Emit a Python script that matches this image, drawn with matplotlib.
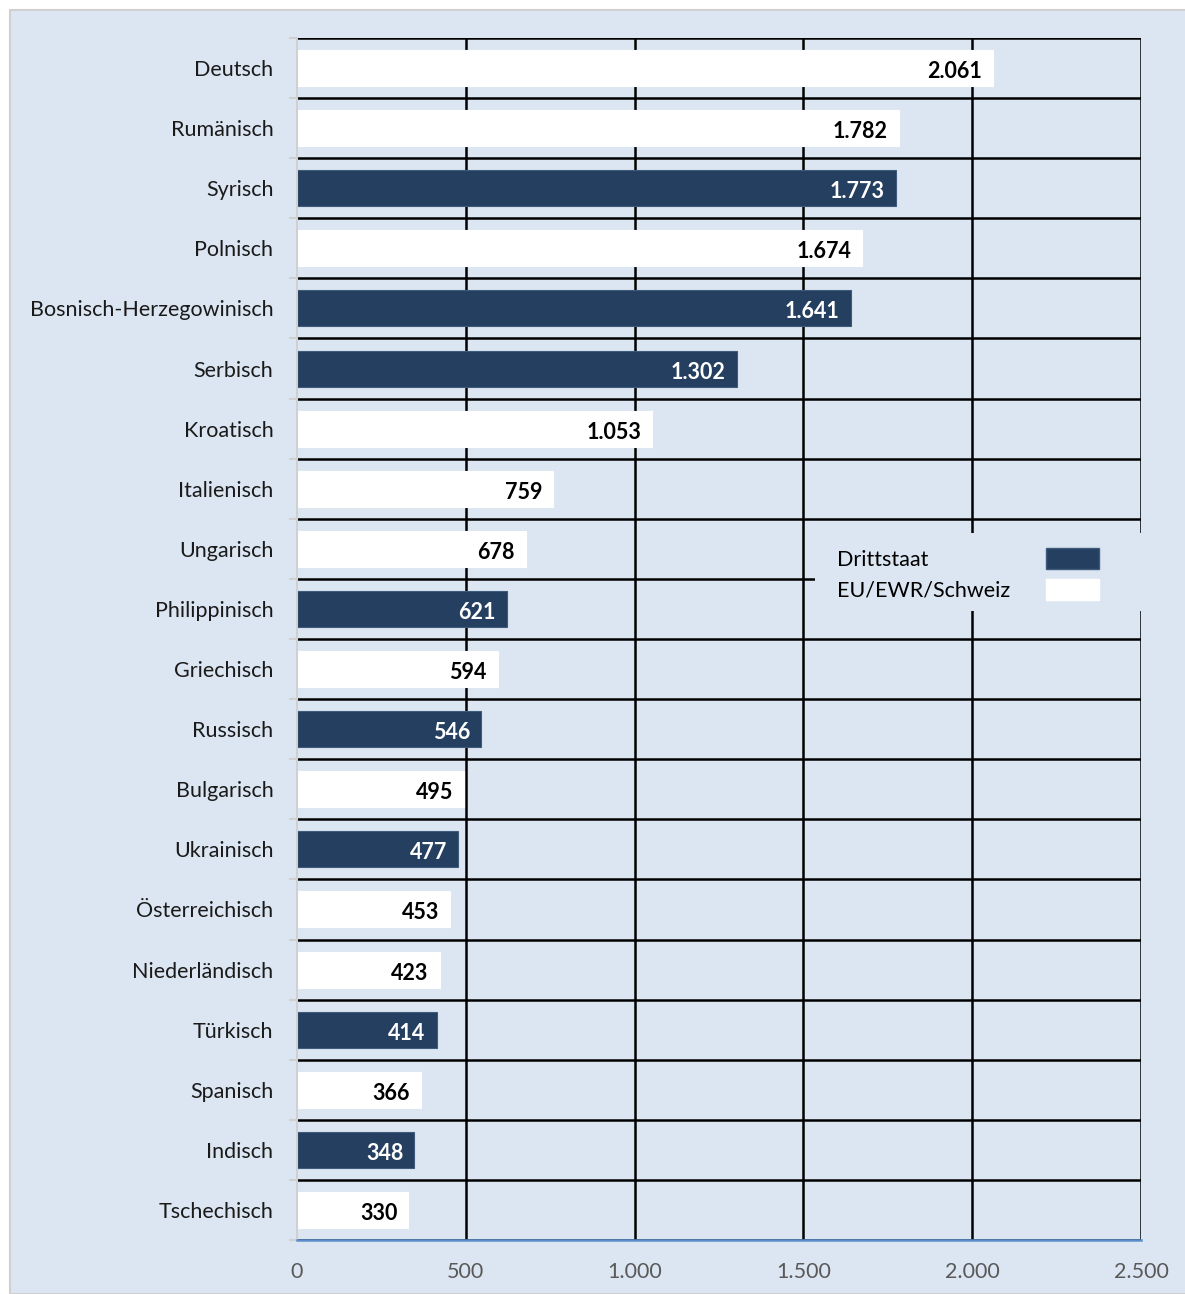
import matplotlib.pyplot as plt
from matplotlib.patches import Patch, Rectangle
import numpy as np

plt.rcParams['font.family'] = ['Lato', 'DejaVu Sans']

categories = ["Deutsch", "Rumänisch", "Syrisch", "Polnisch", "Bosnisch-Herzegowinisch",
              "Serbisch", "Kroatisch", "Italienisch", "Ungarisch", "Philippinisch",
              "Griechisch", "Russisch", "Bulgarisch", "Ukrainisch", "Österreichisch",
              "Niederländisch", "Türkisch", "Spanisch", "Indisch", "Tschechisch"]
values = [2061, 1782, 1773, 1674, 1641, 1302, 1053, 759, 678, 621,
          594, 546, 495, 477, 453, 423, 414, 366, 348, 330]
# True = Drittstaat, False = EU/EWR/Schweiz
third_country = [False, False, True, False, True, True, False, False, False, True,
                 False, True, False, True, False, False, True, False, True, False]
x_ticks = [0, 500, 1000, 1500, 2000, 2500]

DARK = "#243F60"
PANEL = "#DCE6F2"
FS = 15.5


def fmt(v):
    return f"{v:,}".replace(",", ".")


fig = plt.figure(figsize=(11.85, 12.94), dpi=100)
fig.patches.append(Rectangle((10 / 1185, 0), 1.0, 1 - 10 / 1294, transform=fig.transFigure,
                             facecolor=PANEL, edgecolor="#D0D0D0", linewidth=1.5, zorder=0))

ax = fig.add_axes([297 / 1185, 54 / 1294, 844 / 1185, 1202 / 1294])
ax.set_zorder(1)
ax.set_facecolor(PANEL)

n = len(categories)
y = np.arange(n)
colors = [DARK if t else "white" for t in third_country]
edges = ["#3E5A7C" if t else "white" for t in third_country]
ax.barh(y, values, height=0.6, color=colors, edgecolor=edges, linewidth=0.8, zorder=2)

for yi, v, t in zip(y, values, third_country):
    ax.annotate(fmt(v), (v, yi), xytext=(-8, -2.5), textcoords="offset points",
                ha="right", va="center", fontsize=FS, fontweight="bold",
                color="white" if t else "black", zorder=3)

ax.set_xlim(0, 2500)
ax.set_ylim(n - 0.5, -0.5)
ax.set_xticks(x_ticks)
ax.set_xticklabels([fmt(v) for v in x_ticks])
ax.set_yticks(y)
ax.set_yticklabels(categories)
ax.set_yticks(np.arange(-0.5, n, 1), minor=True)

ax.tick_params(axis="y", which="major", length=0, pad=17, labelsize=FS, labelcolor="#1a1a1a")
ax.tick_params(axis="y", which="minor", length=6, width=1.5, color="#D0D0D0")
ax.tick_params(axis="x", length=0, pad=16, labelsize=FS, labelcolor="#595959")

ax.grid(axis="y", which="minor", color="black", linewidth=1.8, zorder=0.5)
for xv in x_ticks[1:]:
    ax.axvline(xv, color="black", linewidth=1.8, zorder=0.5)

ax.spines["left"].set_color("#D0D0D0")
ax.spines["left"].set_linewidth(1.5)
ax.spines["bottom"].set_color("#5B8FCB")
ax.spines["bottom"].set_linewidth(1.8)
ax.spines["top"].set_visible(False)
ax.spines["right"].set_visible(False)

# legend area covers the grid
fig.patches.append(Rectangle((815 / 1185, 1 - 611 / 1294), 327 / 1185, 78 / 1294,
                             transform=fig.transFigure, facecolor=PANEL, edgecolor="none",
                             zorder=5))
handles = [Patch(facecolor=DARK, edgecolor="#3E5A7C", label="Drittstaat"),
           Patch(facecolor="white", edgecolor="white", label="EU/EWR/Schweiz")]
leg = fig.legend(handles=handles, loc="upper left", bbox_to_anchor=(826 / 1185, 1 - 537 / 1294),
                 frameon=False, markerfirst=False, fontsize=FS, handlelength=2.47,
                 handleheight=1.12, handletextpad=2.0, labelspacing=0.44, borderpad=0.5,
                 borderaxespad=0)
leg.set_zorder(6)

# text left aligned, handles in one column on the right
renderer = fig.canvas.get_renderer()
widths = [t.get_window_extent(renderer).width for t in leg.texts]
for col in leg._legend_handle_box.get_children():
    col.align = "left"
    for row, w in zip(col.get_children(), widths):
        row.sep = 2.0 * FS - 5 + (max(widths) - w) * 72 / fig.dpi

fig.savefig("out.png", dpi=100, facecolor="white")
